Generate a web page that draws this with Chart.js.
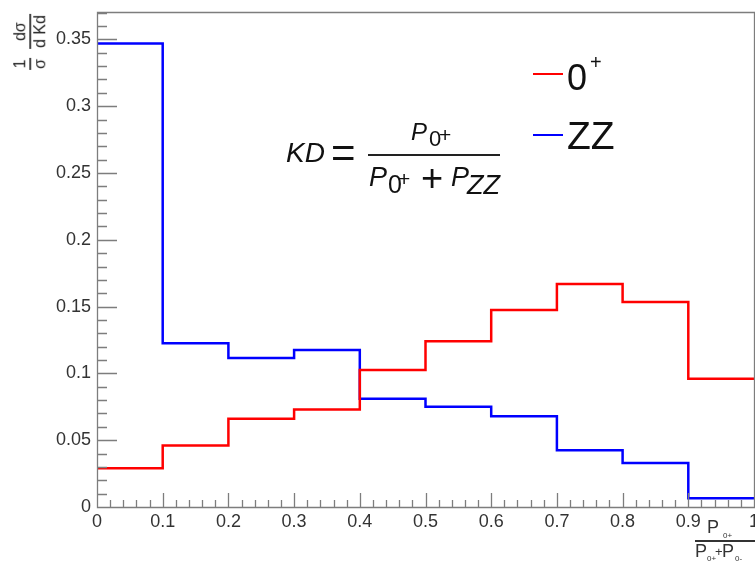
<!DOCTYPE html>
<html>
<head>
<meta charset="utf-8">
<script src="https://cdn.jsdelivr.net/npm/chart.js@4/dist/chart.umd.min.js"></script>
<style>
  html, body { margin: 0; padding: 0; background: #fff; }
  #wrap { position: relative; width: 755px; height: 562px; overflow: hidden; background: #fff; }
  #c { position: absolute; left: 0; top: 0; }
  .txt { position: absolute; font-family: "Liberation Sans", Arial, sans-serif; color: #111; white-space: nowrap; line-height: 1; }
  .it { font-style: italic; }
  .bar { position: absolute; background: #222; }
  #ytitle { position: absolute; left: 30px; top: 42px; transform: translate(-50%, -50%) rotate(-90deg);
            display: flex; align-items: center; gap: 9px; font-family: "Liberation Sans", Arial, sans-serif;
            font-size: 16px; color: #222; line-height: 1; }
  #ytitle .fr { display: flex; flex-direction: column; align-items: center; }
  #ytitle .fr span { padding: 0 1px; }
  #ytitle .fr i { display: block; height: 1.5px; background: #444; align-self: stretch; margin: 1px 0; }
</style>
</head>
<body>
<div id="wrap">
  <canvas id="c" width="800" height="562"></canvas>
  <div id="ytitle">
    <div class="fr"><span>1</span><i></i><span>&sigma;</span></div>
    <div class="fr"><span>d&sigma;</span><i></i><span>d Kd</span></div>
  </div>
  <div id="overlay"></div>
</div>
<script>
// Histogram bin edges of the discriminant KD and normalised bin contents
const binEdges = [0, 0.1, 0.2, 0.3, 0.4, 0.5, 0.6, 0.7, 0.8, 0.9, 1.0];
const zeroPlus = [0.029, 0.046, 0.066, 0.073, 0.1025, 0.124, 0.1475, 0.167, 0.1535, 0.096];
const zz       = [0.347, 0.1225, 0.1115, 0.1175, 0.081, 0.075, 0.068, 0.0425, 0.033, 0.0065];

// Axis labels
const xTicks = [0, 0.1, 0.2, 0.3, 0.4, 0.5, 0.6, 0.7, 0.8, 0.9, 1];
const yTicks = [0, 0.05, 0.1, 0.15, 0.2, 0.25, 0.3, 0.35];
const yMax = 0.3705;

// Points at each bin's lower edge, plus the upper edge of the last bin
function histPoints(values) {
  return binEdges.map((e, i) => ({ x: e, y: values[Math.min(i, values.length - 1)] }));
}

// ROOT-style frame: box plus inward major/minor ticks
const framePlugin = {
  id: 'rootFrame',
  afterDatasetsDraw(chart) {
    const { ctx, chartArea: a, scales: { x, y } } = chart;
    ctx.save();
    ctx.strokeStyle = '#7d7d7d';
    ctx.lineWidth = 1.3;
    ctx.beginPath();
    ctx.rect(a.left + 0.5, a.top + 0.5, a.right - a.left, a.bottom - a.top);

    const ySub = 5, xSub = 5;
    const yStep = (yTicks[1] - yTicks[0]) / ySub;
    for (let k = 0; k * yStep <= yMax + 1e-9; k++) {
      const py = Math.round(y.getPixelForValue(k * yStep)) + 0.5;
      const len = (k % ySub === 0) ? 20 : 10;
      ctx.moveTo(a.left, py);
      ctx.lineTo(a.left + len, py);
    }
    const xStep = (xTicks[1] - xTicks[0]) / xSub;
    for (let k = 0; k * xStep <= 1 + 1e-9; k++) {
      const px = Math.round(x.getPixelForValue(k * xStep)) + 0.5;
      const len = (k % xSub === 0) ? 14 : 7;
      ctx.moveTo(px, a.bottom);
      ctx.lineTo(px, a.bottom - len);
    }
    ctx.stroke();
    ctx.restore();
  }
};

const tickFont = { family: '"Liberation Sans", Arial, sans-serif', size: 18 };
// keep the plot frame fixed: no extra room reserved for edge labels
const noEdgePadding = s => { s.paddingTop = 0; s.paddingBottom = 0; s.paddingLeft = 0; s.paddingRight = 0; };

new Chart(document.getElementById('c'), {
  type: 'line',
  data: {
    datasets: [
      { label: '0+', data: histPoints(zeroPlus), borderColor: '#ff0000', borderWidth: 2.5,
        stepped: 'before', pointRadius: 0, fill: false },
      { label: 'ZZ', data: histPoints(zz), borderColor: '#0000ff', borderWidth: 2.5,
        stepped: 'before', pointRadius: 0, fill: false }
    ]
  },
  options: {
    responsive: false,
    animation: false,
    layout: { padding: { left: 0, top: 12, right: 46, bottom: 0 } },
    plugins: { legend: { display: false }, tooltip: { enabled: false } },
    scales: {
      x: {
        type: 'linear', min: 0, max: 1,
        afterBuildTicks: s => { s.ticks = xTicks.map(v => ({ value: v })); },
        afterFit: s => { s.height = 55; noEdgePadding(s); },
        grid: { display: false, drawTicks: false, tickLength: 0 },
        border: { display: false },
        ticks: { padding: 4, font: tickFont, color: '#333', maxRotation: 0, autoSkip: false,
                 callback: v => String(v) }
      },
      y: {
        type: 'linear', min: 0, max: yMax,
        afterBuildTicks: s => { s.ticks = yTicks.map(v => ({ value: v })); },
        afterFit: s => { s.width = 97; noEdgePadding(s); },
        grid: { display: false, drawTicks: false, tickLength: 0 },
        border: { display: false },
        ticks: { padding: 6, font: tickFont, color: '#333', autoSkip: false,
                 callback: v => String(v) }
      }
    }
  },
  plugins: [framePlugin]
});

// Text annotations: formula, legend and x-axis title, placed by baseline
const overlay = document.getElementById('overlay');
function put(text, x, baseline, size, opts = {}) {
  const s = document.createElement('div');
  s.className = 'txt' + (opts.italic ? ' it' : '');
  s.textContent = text;
  s.style.fontSize = size + 'px';
  s.style.left = x + 'px';
  s.style.top = (baseline - 0.8465 * size) + 'px';
  if (opts.color) s.style.color = opts.color;
  overlay.appendChild(s);
}
function bar(x, y, w, h, color) {
  const b = document.createElement('div');
  b.className = 'bar';
  b.style.left = x + 'px'; b.style.top = y + 'px';
  b.style.width = w + 'px'; b.style.height = h + 'px';
  if (color) b.style.background = color;
  overlay.appendChild(b);
}

// KD = P0+ / (P0+ + PZZ)
put('KD', 286, 163, 28, { italic: true });
put('=', 331, 168, 42);
bar(368, 154, 132, 1.5);
put('P', 411, 140, 24, { italic: true });
put('0', 429, 147, 22);
put('+', 439, 142, 21);
put('P', 369, 187, 27, { italic: true });
put('0', 388, 193, 25);
put('+', 398, 186, 21);
put('+', 421, 191, 38);
put('P', 451, 187, 27, { italic: true });
put('ZZ', 467, 195, 27, { italic: true });

// Legend
bar(533, 72.5, 30, 2, '#ff0000');
put('0', 567, 90.5, 36);
put('+', 590, 68.5, 20);
bar(533, 133.5, 30, 2, '#0000ff');
put('ZZ', 567, 149.5, 39);

// x-axis title: P0+ / (P0+ + P0-)
put('P', 707, 533.5, 18, { color: '#333' });
put('0+', 723, 539, 8, { color: '#333' });
bar(695, 540, 80, 1.5, '#333');
put('P', 695, 557.5, 18, { color: '#333' });
put('0+', 707, 562, 8, { color: '#333' });
put('+', 715, 556, 13, { color: '#333' });
put('P', 722, 557.5, 18, { color: '#333' });
put('0-', 735, 562, 8, { color: '#333' });
</script>
</body>
</html>
